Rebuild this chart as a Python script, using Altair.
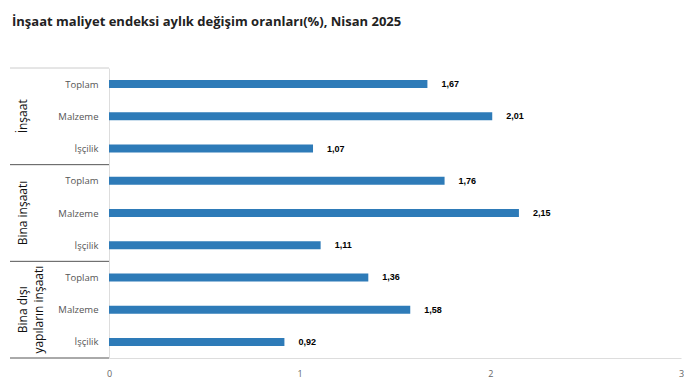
import altair as alt
import pandas as pd

title_text = "İnşaat maliyet endeksi aylık değişim oranları(%), Nisan 2025"
groups = ["İnşaat", "Bina inşaatı", "Bina dışı yapıların inşaatı"]
group_lines = [["İnşaat"], ["Bina inşaatı"], ["Bina dışı", "yapıların inşaatı"]]
categories = ["Toplam", "Malzeme", "İşçilik"]
values = [1.67, 2.01, 1.07, 1.76, 2.15, 1.11, 1.36, 1.58, 0.92]
x_ticks = [0, 1, 2, 3]

rows = []
for gi, g in enumerate(groups):
    for ci, c in enumerate(categories):
        v = values[gi * 3 + ci]
        rows.append({"row": gi * 3 + ci, "group": g, "cat": c, "value": v,
                     "label": f"{v:.2f}".replace(".", ",")})
df = pd.DataFrame(rows)

gdf = pd.DataFrame({"row": [gi * 3 + 1 for gi in range(len(groups))],
                    "text": group_lines})
sep = pd.DataFrame({"y": [-0.5, 2.5, 5.5, 8.5], "c": ["top", "sep", "sep", "sep"]})
tdf = pd.DataFrame({"t": [title_text]})

yscale = alt.Scale(domain=[-0.5, 8.5], reverse=True, nice=False, zero=False, padding=0)
xscale = alt.Scale(domain=[0, 3], nice=False, padding=0)

xaxis = alt.Axis(values=x_ticks, title=None, grid=False, ticks=False,
                 format="d", labelOverlap=False, labelFlush=False,
                 domainColor="#dddddd", labelColor="#666666",
                 labelFontSize=9, labelPadding=11, labelFont="Open Sans")
yaxis = alt.Axis(values=list(range(9)), title=None, grid=False, ticks=False,
                 labelOverlap=False,
                 domainColor="#dddddd", labelColor="#555555",
                 labelFontSize=9.5, labelPadding=11, labelFont="Open Sans",
                 labelExpr="['Toplam','Malzeme','İşçilik'][datum.value % 3]")

bars = alt.Chart(df).mark_bar(size=8, color="#2e7bb8", orient="horizontal").encode(
    x=alt.X("value:Q", scale=xscale, axis=xaxis),
    y=alt.Y("row:Q", scale=yscale, axis=yaxis),
)

labels = alt.Chart(df).mark_text(align="left", baseline="middle", dx=14,
                                 fontWeight="bold", fontSize=9, color="#000000",
                                 font="Liberation Sans").encode(
    x=alt.X("value:Q", scale=xscale, axis=xaxis),
    y=alt.Y("row:Q", scale=yscale, axis=yaxis),
    text="label:N",
)

glabels = alt.Chart(gdf).mark_text(angle=270, align="center", baseline="middle",
                                   fontSize=12, color="#111111", font="Open Sans",
                                   lineHeight=16).encode(
    x=alt.value(-86),
    y=alt.Y("row:Q", scale=yscale, axis=yaxis),
    text="text",
)

seps = alt.Chart(sep).mark_rule(strokeWidth=1).encode(
    x=alt.value(-99), x2=alt.value(0),
    y=alt.Y("y:Q", scale=yscale, axis=yaxis),
    color=alt.Color("c:N", scale=alt.Scale(domain=["top", "sep"], range=["#cccccc", "#555555"]), legend=None),
)

title = alt.Chart(tdf).mark_text(align="left", baseline="middle", fontSize=13,
                                 fontWeight="bold", font="Open Sans", color="#222222").encode(
    x=alt.value(-97), y=alt.value(-46), text="t:N")

chart = alt.layer(bars, labels, glabels, seps, title).properties(
    width=572, height=290,
    autosize=alt.AutoSizeParams(type="none"),
    padding={"left": 101, "top": 60, "right": 3, "bottom": 25},
).configure_view(stroke=None).configure_axis(labelOverlap=False)

chart.save("out.html", embed_options={"renderer": "svg", "actions": False})
